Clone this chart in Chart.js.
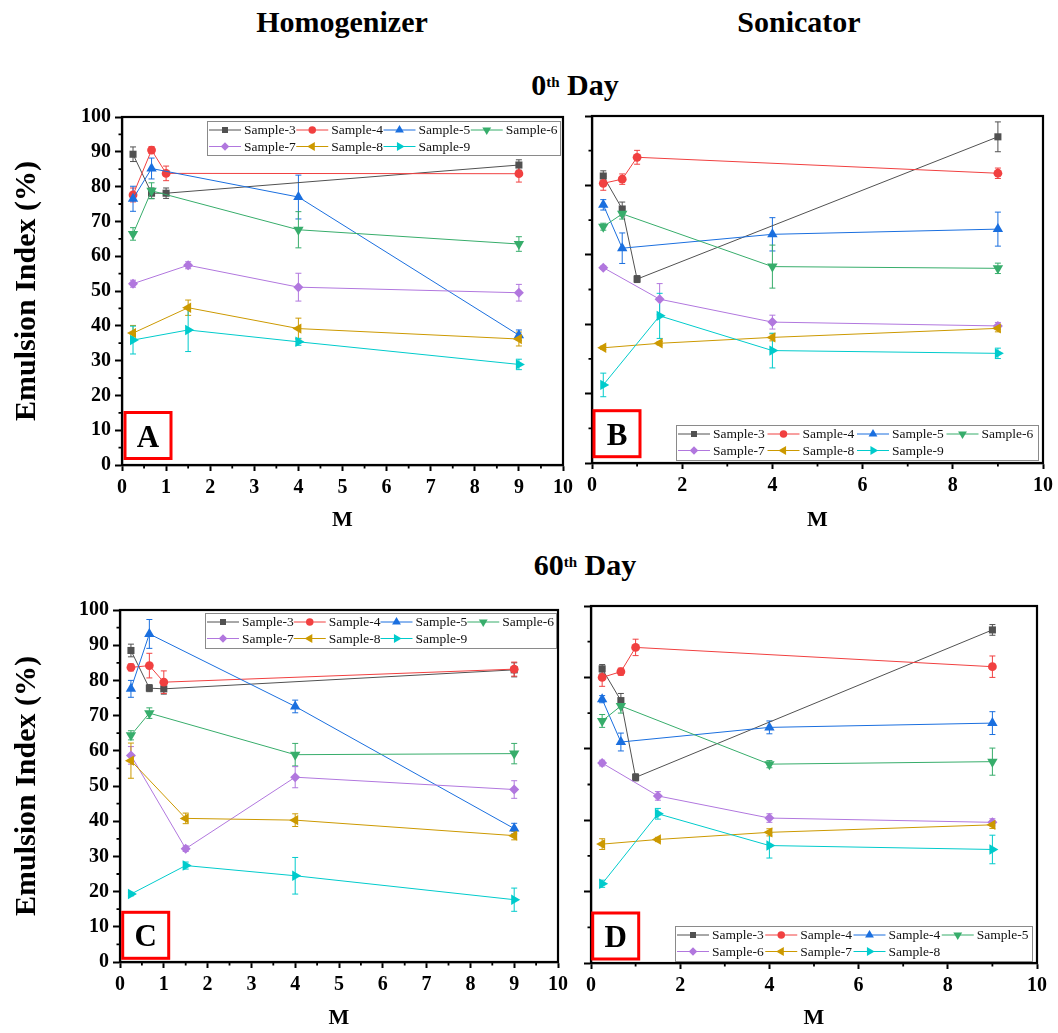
<!DOCTYPE html>
<html>
<head>
<meta charset="utf-8">
<script src="https://cdn.jsdelivr.net/npm/chart.js@4.4.1/dist/chart.umd.min.js"></script>
<style>
body { margin: 0; background: #fff; width: 1058px; height: 1033px; position: relative; overflow: hidden; font-family: "Liberation Serif", "Times New Roman", serif; }
canvas { position: absolute; }
.head { position: absolute; width: 300px; text-align: center; font-weight: bold; font-size: 30px; line-height: 30px; color: #000; white-space: nowrap; }
.head sup { font-size: 15px; line-height: 15px; vertical-align: 8px; }
</style>
</head>
<body>
<div class="head" style="left:192px;top:7px">Homogenizer</div>
<div class="head" style="left:649px;top:7px">Sonicator</div>
<div class="head" style="left:425px;top:70px">0<sup>th</sup> Day</div>
<div class="head" style="left:435px;top:550px">60<sup>th</sup> Day</div>

<canvas id="chartA" width="585" height="445" style="left:0;top:95px"></canvas>
<canvas id="chartB" width="483" height="445" style="left:575px;top:95px"></canvas>
<canvas id="chartC" width="580" height="455" style="left:0;top:585px"></canvas>
<canvas id="chartD" width="483" height="455" style="left:575px;top:585px"></canvas>

<script>
// Datos: valores de M y series por panel (nulos donde no hay punto)
const mValues = [0.25, 0.67, 1, 1.5, 4, 9];

const sampleLabels = ['Sample-3', 'Sample-4', 'Sample-5', 'Sample-6', 'Sample-7', 'Sample-8', 'Sample-9'];
const sampleLabelsD = ['Sample-3', 'Sample-4', 'Sample-4', 'Sample-5', 'Sample-6', 'Sample-7', 'Sample-8'];

// Homogenizer, día 0
const homog0Values = [
    [89.3, 78.1, 78.1, null, null, 86.2],
    [77.6, 90.5, 83.8, null, null, 83.7],
    [76.5, 85.2, null, null, 77.0, 37.3],
    [66.4, 78.8, null, null, 67.6, 63.5],
    [52.1, null, null, 57.4, 51.1, 49.5],
    [37.9, null, null, 45.2, 39.2, 36.2],
    [35.9, null, null, 38.8, 35.4, 28.9]
];
const homog0Errors = [
    [2.1, 1.5, 1.5, null, null, 1.5],
    [2.0, 1.0, 2.1, null, null, 2.4],
    [3.6, 3.0, null, null, 6.3, 1.5],
    [1.8, 2.3, null, null, 5.2, 2.1],
    [1.0, null, null, 1.0, 4.0, 2.4],
    [2.2, null, null, 2.2, 3.0, 2.0],
    [4.0, null, null, 6.2, 1.0, 1.5]
];

// Sonicator, día 0
const sonic0Values = [
    [82.7, 73.2, 53.0, null, null, 94.0],
    [80.6, 81.8, 88.1, null, null, 83.5],
    [74.4, 61.9, null, null, 65.9, 67.4],
    [68.1, 71.8, null, null, 56.6, 56.1],
    [56.3, null, null, 47.2, 40.6, 39.5],
    [33.2, null, null, 34.5, 36.2, 38.8],
    [22.5, null, null, 42.4, 32.4, 31.6]
];
const sonic0Errors = [
    [1.5, 2.0, 1.0, null, null, 4.3],
    [2.0, 1.5, 2.0, null, null, 1.5],
    [1.5, 4.4, null, null, 4.8, 4.9],
    [1.0, 1.5, null, null, 6.2, 1.5],
    [0.5, null, null, 4.5, 2.0, 1.0],
    [0.5, null, null, 0.5, 1.0, 1.0],
    [3.4, null, null, 6.5, 5.0, 1.5]
];

// Homogenizer, día 60
const homog60Values = [
    [88.5, 77.8, 77.6, null, null, 83.0],
    [83.7, 84.2, 79.5, null, null, 83.2],
    [77.6, 93.2, null, null, 72.6, 37.9],
    [64.4, 70.7, null, null, 58.9, 59.2],
    [58.7, null, null, 32.2, 52.5, 49.0],
    [57.2, null, null, 40.8, 40.3, 35.9],
    [19.3, null, null, 27.4, 24.5, 17.7]
];
const homog60Errors = [
    [1.8, 1.0, 1.5, null, null, 2.0],
    [1.0, 3.5, 3.2, null, null, 2.0],
    [2.4, 4.1, null, null, 1.8, 1.5],
    [1.3, 1.5, null, null, 3.2, 2.9],
    [2.5, null, null, 0.8, 3.0, 2.5],
    [5.0, null, null, 1.5, 1.8, 1.2],
    [0.5, null, null, 1.0, 5.2, 3.3]
];

// Sonicator, día 60
const sonic60Values = [
    [82.4, 73.5, 52.0, null, null, 93.3],
    [80.0, 81.6, 88.4, null, null, 83.0],
    [73.9, 61.9, null, null, 66.0, 67.2],
    [67.8, 72.0, null, null, 55.7, 56.4],
    [56.0, null, null, 46.8, 40.6, 39.4],
    [33.3, null, null, 34.6, 36.6, 38.7],
    [22.2, null, null, 41.8, 32.9, 31.8]
];
const sonic60Errors = [
    [1.2, 2.0, 1.0, null, null, 1.5],
    [2.5, 1.0, 2.3, null, null, 3.0],
    [1.0, 2.5, null, null, 1.8, 3.2],
    [1.8, 2.0, null, null, 1.0, 3.8],
    [0.8, null, null, 1.2, 1.2, 1.0],
    [1.5, null, null, 0.6, 1.0, 1.0],
    [1.0, null, null, 1.5, 3.5, 4.0]
];

// Estilos de las series (paleta tipo Origin)
const sampleColors = ['#515151', '#F14040', '#1A6FDF', '#37AD6B', '#B177DE', '#CC9900', '#00CBCC'];
const markerStyles = ['rect', 'circle', 'triangle', 'triangle', 'rectRot', 'triangle', 'triangle'];
const markerRotations = [0, 0, 0, 180, 0, -90, 90];
const markerRadius = [5, 4.4, 6, 6, 5, 6, 6];

const FAMILY = '"Liberation Serif", "Times New Roman", serif';
Chart.defaults.font.family = FAMILY;
Chart.defaults.color = '#000';

// Dibujar un marcador para la leyenda
function drawMarker(ctx, style, rot, r, x, y) {
    ctx.beginPath();
    if (style === 'circle') {
        ctx.arc(x, y, r, 0, Math.PI * 2);
    } else if (style === 'rect') {
        const s = r * Math.SQRT1_2;
        ctx.rect(x - s, y - s, 2 * s, 2 * s);
    } else if (style === 'rectRot') {
        ctx.moveTo(x, y - r);
        ctx.lineTo(x + r, y);
        ctx.lineTo(x, y + r);
        ctx.lineTo(x - r, y);
        ctx.closePath();
    } else {
        let a = rot * Math.PI / 180;
        ctx.moveTo(x + Math.sin(a) * r, y - Math.cos(a) * r);
        for (let k = 0; k < 2; k++) {
            a += 2 * Math.PI / 3;
            ctx.lineTo(x + Math.sin(a) * r, y - Math.cos(a) * r);
        }
        ctx.closePath();
    }
    ctx.fill();
}

// Barras de error (debajo de los marcadores)
const errorBarsPlugin = {
    id: 'errorBars',
    beforeDatasetsDraw(chart) {
        const { ctx, scales: { x, y } } = chart;
        chart.data.datasets.forEach(ds => {
            ctx.save();
            ctx.strokeStyle = ds.borderColor;
            ctx.lineWidth = 1;
            ds.data.forEach(p => {
                if (!p.err) return;
                const px = x.getPixelForValue(p.x);
                const top = y.getPixelForValue(p.y + p.err);
                const bot = y.getPixelForValue(p.y - p.err);
                ctx.beginPath();
                ctx.moveTo(px, top); ctx.lineTo(px, bot);
                ctx.moveTo(px - 3, top); ctx.lineTo(px + 3, top);
                ctx.moveTo(px - 3, bot); ctx.lineTo(px + 3, bot);
                ctx.stroke();
            });
            ctx.restore();
        });
    }
};

// Marco, ticks menores, leyenda y etiqueta de panel
const decorPlugin = {
    id: 'decor',
    afterDraw(chart, args, opts) {
        const { ctx, chartArea: a, scales: { x, y } } = chart;
        ctx.save();

        // marco completo
        ctx.strokeStyle = '#000';
        ctx.lineWidth = 2.2;
        ctx.strokeRect(a.left, a.top, a.right - a.left, a.bottom - a.top);

        // ticks menores
        ctx.lineWidth = 1.8;
        ctx.beginPath();
        for (let v = opts.xMinor; v < 10; v += opts.xMinor * 2) {
            const px = x.getPixelForValue(v);
            ctx.moveTo(px, a.bottom); ctx.lineTo(px, a.bottom + 3.5);
        }
        for (let v = opts.yMinor; v < 100; v += opts.yMinor * 2) {
            const py = y.getPixelForValue(v);
            ctx.moveTo(a.left, py); ctx.lineTo(a.left - 3.5, py);
        }
        ctx.stroke();

        // leyenda
        const lg = opts.legend;
        const lx = a.left + lg.dx;
        const ly = lg.fromBottom ? a.bottom - lg.dy - lg.h : a.top + lg.dy;
        ctx.fillStyle = '#fff';
        ctx.fillRect(lx, ly, lg.w, lg.h);
        ctx.strokeStyle = '#8a8a8a';
        ctx.lineWidth = 1;
        ctx.strokeRect(lx + 0.5, ly + 0.5, lg.w, lg.h);
        const colW = (lg.w - 4) / 4;
        ctx.font = '13.5px ' + FAMILY;
        ctx.textBaseline = 'middle';
        chart.data.datasets.forEach((ds, i) => {
            const col = i % 4, row = Math.floor(i / 4);
            const x0 = lx + 2 + col * colW;
            const yc = ly + 9 + row * 16.5;
            ctx.strokeStyle = ds.borderColor;
            ctx.lineWidth = 1;
            ctx.beginPath();
            ctx.moveTo(x0, yc); ctx.lineTo(x0 + 32, yc);
            ctx.stroke();
            ctx.fillStyle = ds.borderColor;
            drawMarker(ctx, ds.pointStyle, ds.pointRotation, ds.pointRadius * 0.85, x0 + 16, yc);
            ctx.fillStyle = '#111';
            ctx.fillText(ds.label, x0 + 35, yc + 0.5);
        });

        // recuadro rojo con la letra
        const bx = a.left + opts.box.dx;
        const by = a.bottom - opts.box.dy - 46;
        ctx.strokeStyle = '#ff0000';
        ctx.lineWidth = 3;
        ctx.strokeRect(bx, by, 46, 46);
        ctx.fillStyle = '#000';
        ctx.font = 'bold 31px ' + FAMILY;
        ctx.textAlign = 'center';
        ctx.textBaseline = 'alphabetic';
        ctx.fillText(opts.box.text, bx + 23, by + 34);

        ctx.restore();
    }
};

function buildDatasets(labels, values, errors) {
    return values.map((vals, i) => ({
        label: labels[i],
        data: mValues
            .map((m, j) => ({ x: m, y: vals[j], err: errors[i][j] }))
            .filter(p => p.y !== null),
        showLine: true,
        borderColor: sampleColors[i],
        backgroundColor: sampleColors[i],
        borderWidth: 1,
        tension: 0,
        pointStyle: markerStyles[i],
        pointRotation: markerRotations[i],
        pointRadius: markerRadius[i],
        pointBackgroundColor: sampleColors[i],
        pointBorderWidth: 0,
        order: 7 - i
    }));
}

function crearPanel(cfg) {
    const tickFont = { family: FAMILY, size: 20, weight: 'bold' };
    new Chart(document.getElementById(cfg.id), {
        type: 'scatter',
        data: { datasets: buildDatasets(cfg.labels, cfg.values, cfg.errors) },
        options: {
            responsive: false,
            animation: false,
            layout: { padding: cfg.padding },
            plugins: {
                legend: { display: false },
                tooltip: { enabled: false },
                decor: cfg.decor
            },
            scales: {
                x: {
                    type: 'linear', min: 0, max: 10,
                    ticks: { stepSize: cfg.xStep, font: tickFont, color: '#000', padding: 5, maxRotation: 0, autoSkip: false },
                    grid: { drawOnChartArea: false, tickLength: 6, tickWidth: 2, tickColor: '#000' },
                    border: { color: '#000', width: 2.2 },
                    title: { display: true, text: 'M', color: '#000', font: { family: FAMILY, size: 22, weight: 'bold' }, padding: { top: 0, bottom: cfg.mPad } },
                    afterFit: s => { s.height = cfg.xH; }
                },
                y: {
                    type: 'linear', min: 0, max: 100,
                    ticks: { stepSize: cfg.yStep, display: cfg.yLabels, font: tickFont, color: '#000', padding: 4 },
                    grid: { drawOnChartArea: false, tickLength: 7, tickWidth: 2, tickColor: '#000' },
                    border: { color: '#000', width: 2.2 },
                    title: { display: cfg.yLabels, text: 'Emulsion Index (%)', color: '#000', font: { family: FAMILY, size: 30, weight: 'bold' }, padding: { top: 9, bottom: 0 } },
                    afterFit: s => { s.width = cfg.yW; }
                }
            }
        },
        plugins: [errorBarsPlugin, decorPlugin]
    });
}

crearPanel({
    id: 'chartA', labels: sampleLabels, values: homog0Values, errors: homog0Errors,
    padding: { left: 0, top: 22, right: 22, bottom: 0 }, yW: 122, xH: 75, mPad: 6,
    xStep: 1, yStep: 10, yLabels: true,
    decor: { xMinor: 0.5, yMinor: 5, legend: { dx: 85, dy: 4, w: 353, h: 34, fromBottom: false }, box: { dx: 3, dy: 6.5, text: 'A' } }
});
crearPanel({
    id: 'chartB', labels: sampleLabels, values: sonic0Values, errors: sonic0Errors,
    padding: { left: 0, top: 21, right: 13, bottom: 0 }, yW: 17, xH: 77, mPad: 6,
    xStep: 2, yStep: 20, yLabels: false,
    decor: { xMinor: 1, yMinor: 10, legend: { dx: 84, dy: 3, w: 362, h: 35, fromBottom: true }, box: { dx: 2, dy: 6.3, text: 'B' } }
});
crearPanel({
    id: 'chartC', labels: sampleLabels, values: homog60Values, errors: homog60Errors,
    padding: { left: 0, top: 25, right: 22, bottom: 0 }, yW: 120, xH: 78, mPad: 8,
    xStep: 1, yStep: 10, yLabels: true,
    decor: { xMinor: 0.5, yMinor: 5, legend: { dx: 85, dy: 3, w: 351, h: 35, fromBottom: false }, box: { dx: 2.7, dy: 3.7, text: 'C' } }
});
crearPanel({
    id: 'chartD', labels: sampleLabelsD, values: sonic60Values, errors: sonic60Errors,
    padding: { left: 0, top: 21, right: 21, bottom: 0 }, yW: 16, xH: 77, mPad: 8,
    xStep: 2, yStep: 20, yLabels: false,
    decor: { xMinor: 1, yMinor: 10, legend: { dx: 84, dy: 2, w: 357, h: 35, fromBottom: true }, box: { dx: 1.7, dy: 4, text: 'D' } }
});
</script>
</body>
</html>
